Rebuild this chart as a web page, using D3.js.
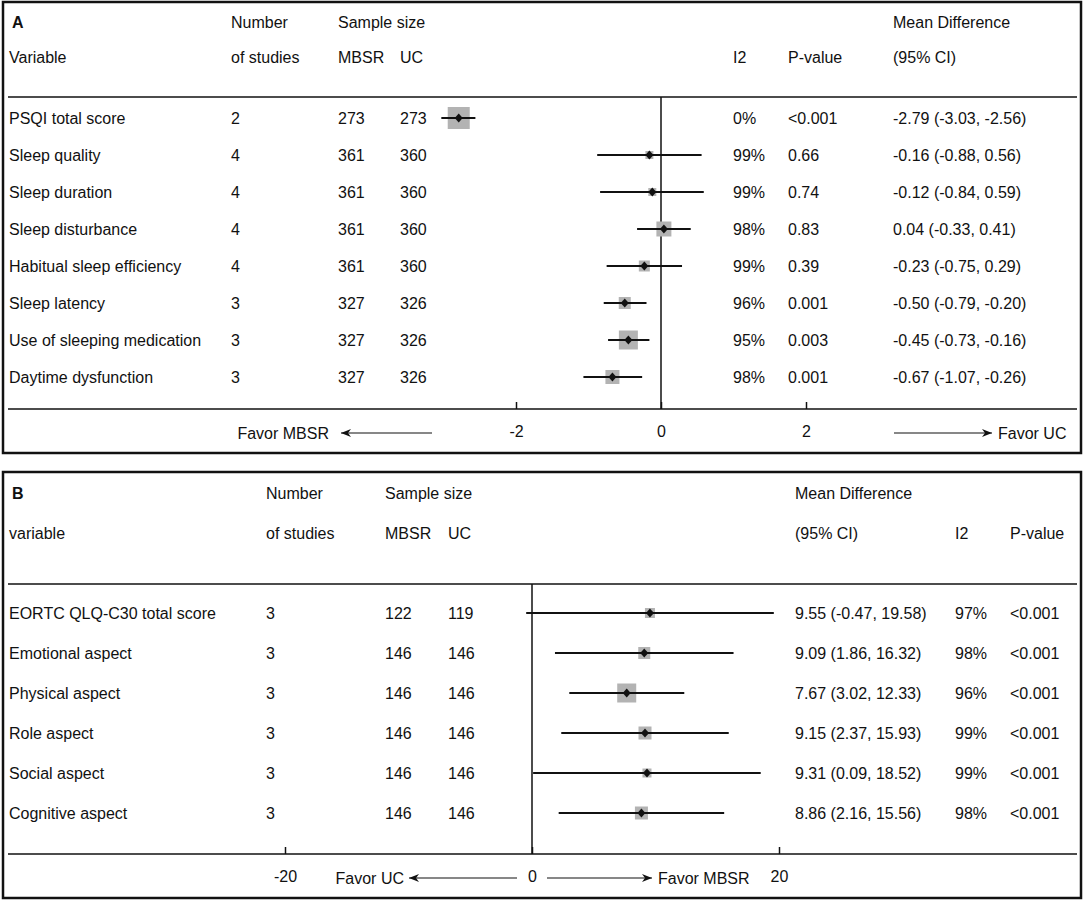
<!DOCTYPE html>
<html>
<head>
<meta charset="utf-8">
<script src="https://cdnjs.cloudflare.com/ajax/libs/d3/7.8.5/d3.min.js"></script>
<style>
  body { margin: 0; background: #fff; }
  svg text { font-family: "Liberation Sans", Arial, sans-serif; font-size: 16px; fill: #111; }
</style>
</head>
<body>
<div id="chart"></div>
<script>
// panel A - sleep outcomes
const sleepVars = ["PSQI total score", "Sleep quality", "Sleep duration", "Sleep disturbance",
  "Habitual sleep efficiency", "Sleep latency", "Use of sleeping medication", "Daytime dysfunction"]
const sleepStudies = [2, 4, 4, 4, 4, 3, 3, 3]
const sleepMBSR = [273, 361, 361, 361, 361, 327, 327, 327]
const sleepUC = [273, 360, 360, 360, 360, 326, 326, 326]
const sleepI2 = ["0%", "99%", "99%", "98%", "99%", "96%", "95%", "98%"]
const sleepP = ["<0.001", "0.66", "0.74", "0.83", "0.39", "0.001", "0.003", "0.001"]
const sleepMD = [-2.79, -0.16, -0.12, 0.04, -0.23, -0.50, -0.45, -0.67]
const sleepLo = [-3.03, -0.88, -0.84, -0.33, -0.75, -0.79, -0.73, -1.07]
const sleepHi = [-2.56, 0.56, 0.59, 0.41, 0.29, -0.20, -0.16, -0.26]
const sleepWeight = [22, 8, 8, 15, 11, 12, 19, 14]
const sleepTicks = [-2, 0, 2]

// panel B - quality of life outcomes
const qolVars = ["EORTC QLQ-C30 total score", "Emotional aspect", "Physical aspect",
  "Role aspect", "Social aspect", "Cognitive aspect"]
const qolStudies = [3, 3, 3, 3, 3, 3]
const qolMBSR = [122, 146, 146, 146, 146, 146]
const qolUC = [119, 146, 146, 146, 146, 146]
const qolI2 = ["97%", "98%", "96%", "99%", "99%", "98%"]
const qolP = ["<0.001", "<0.001", "<0.001", "<0.001", "<0.001", "<0.001"]
const qolMD = [9.55, 9.09, 7.67, 9.15, 9.31, 8.86]
const qolLo = [-0.47, 1.86, 3.02, 2.37, 0.09, 2.16]
const qolHi = [19.58, 16.32, 12.33, 15.93, 18.52, 15.56]
const qolWeight = [10, 12, 19, 13, 9, 13]
const qolTicks = [-20, 0, 20]

const W = 1084, H = 903
const svg = d3.select('#chart').append('svg').attr('width', W).attr('height', H)

const fmt = v => v.toFixed(2)
const sizeScale = d3.scaleLinear().domain([0, 22]).range([0, 22])

const drawPanel = (p) => {
  const g = svg.append('g')
  const rows = p.vars.map((v, i) => ({
    v: v, n: p.studies[i], m: p.mbsr[i], u: p.uc[i], i2: p.i2[i], pv: p.pval[i],
    md: p.md[i], lo: p.lo[i], hi: p.hi[i], w: p.weight[i]
  }))

  // frame
  g.append('rect')
    .attr('x', 3).attr('y', p.top).attr('width', 1078).attr('height', p.bottom - p.top)
    .attr('fill', 'none').attr('stroke', '#111').attr('stroke-width', 2.5)

  // header
  g.append('text').attr('x', 12).attr('y', p.h1).attr('dy', '0.35em')
    .style('font-weight', 'bold').text(p.letter)
  p.headers.forEach(h => {
    g.append('text').attr('x', h[0]).attr('y', h[2] == 1 ? p.h1 : p.h2).attr('dy', '0.35em').text(h[1])
  })

  // separator + axis lines
  g.append('line').attr('x1', 8).attr('x2', 1077).attr('y1', p.sep).attr('y2', p.sep)
    .attr('stroke', '#111').attr('stroke-width', 1.5)
  g.append('line').attr('x1', 8).attr('x2', 1077).attr('y1', p.axisY).attr('y2', p.axisY)
    .attr('stroke', '#111').attr('stroke-width', 1.5)

  const x = d3.scaleLinear().domain(p.domain).range(p.range)
  const y = d3.scalePoint().domain(p.vars).range(p.rowRange)

  // null line
  g.append('line').attr('x1', x(0)).attr('x2', x(0)).attr('y1', p.sep).attr('y2', p.axisY)
    .attr('stroke', '#111').attr('stroke-width', 1.5)

  // axis
  const ax = g.append('g').attr('transform', `translate(0,${p.axisY})`)
    .call(d3.axisBottom(x).tickValues(p.ticks).tickSize(-7).tickPadding(17).tickFormat(d => String(d)))
  ax.select('.domain').remove()
  ax.selectAll('.tick line').attr('stroke', '#111').attr('stroke-width', 1.5)
  ax.selectAll('.tick text').attr('font-size', null).attr('font-family', null).style('fill', '#111')

  // favor arrows
  const ay = p.axisY + 24
  p.favor.forEach(f => {
    g.append('line').attr('x1', f.from).attr('x2', f.to).attr('y1', ay).attr('y2', ay)
      .attr('stroke', '#111').attr('stroke-width', 1.2)
    const dir = f.to < f.from ? -1 : 1
    g.append('path')
      .attr('d', `M${f.to},${ay} L${f.to - dir * 10},${ay - 4} L${f.to - dir * 7},${ay} L${f.to - dir * 10},${ay + 4} Z`)
      .attr('fill', '#111')
    g.append('text').attr('x', f.tx).attr('y', ay).attr('dy', '0.35em')
      .attr('text-anchor', f.anchor).text(f.label)
  })

  // rows text
  const r = g.selectAll('.row').data(rows).join('g').attr('class', 'row')
    .attr('transform', d => `translate(0,${y(d.v)})`)
  p.cols.forEach(c => {
    r.append('text').attr('x', c.x).attr('dy', '0.35em').text(c.f)
  })

  // weight squares, CI lines, diamonds
  r.append('rect')
    .attr('x', d => x(d.md) - sizeScale(d.w) / 2).attr('y', d => -sizeScale(d.w) / 2)
    .attr('width', d => sizeScale(d.w)).attr('height', d => sizeScale(d.w))
    .attr('fill', '#b3b3b3')
  r.append('line').attr('x1', d => x(d.lo)).attr('x2', d => x(d.hi))
    .attr('stroke', '#111').attr('stroke-width', 2.2)
  r.append('path').attr('d', 'M0,-4.5 L4,0 L0,4.5 L-4,0 Z')
    .attr('transform', d => `translate(${x(d.md)},0)`).attr('fill', '#111')
}

const ciText = d => `${fmt(d.md)} (${fmt(d.lo)}, ${fmt(d.hi)})`

drawPanel({
  letter: 'A', top: 2, bottom: 453, h1: 22, h2: 57, sep: 97, axisY: 409,
  vars: sleepVars, studies: sleepStudies, mbsr: sleepMBSR, uc: sleepUC, i2: sleepI2, pval: sleepP,
  md: sleepMD, lo: sleepLo, hi: sleepHi, weight: sleepWeight, ticks: sleepTicks,
  domain: [-2, 2], range: [516, 806], rowRange: [118, 377],
  headers: [[231, 'Number', 1], [338, 'Sample size', 1], [893, 'Mean Difference', 1],
    [9, 'Variable', 2], [231, 'of studies', 2], [338, 'MBSR', 2], [400, 'UC', 2],
    [733, 'I2', 2], [788, 'P-value', 2], [893, '(95% CI)', 2]],
  cols: [{ x: 9, f: d => d.v }, { x: 231, f: d => d.n }, { x: 338, f: d => d.m },
    { x: 400, f: d => d.u }, { x: 733, f: d => d.i2 }, { x: 788, f: d => d.pv },
    { x: 893, f: ciText }],
  favor: [{ label: 'Favor MBSR', from: 432, to: 341, tx: 329, anchor: 'end' },
    { label: 'Favor UC', from: 894, to: 992, tx: 998, anchor: 'start' }]
})

drawPanel({
  letter: 'B', top: 472, bottom: 898, h1: 493, h2: 533, sep: 584, axisY: 854,
  vars: qolVars, studies: qolStudies, mbsr: qolMBSR, uc: qolUC, i2: qolI2, pval: qolP,
  md: qolMD, lo: qolLo, hi: qolHi, weight: qolWeight, ticks: qolTicks,
  domain: [-20, 20], range: [285, 779], rowRange: [613, 813],
  headers: [[266, 'Number', 1], [385, 'Sample size', 1], [795, 'Mean Difference', 1],
    [9, 'variable', 2], [266, 'of studies', 2], [385, 'MBSR', 2], [448, 'UC', 2],
    [795, '(95% CI)', 2], [955, 'I2', 2], [1010, 'P-value', 2]],
  cols: [{ x: 9, f: d => d.v }, { x: 266, f: d => d.n }, { x: 385, f: d => d.m },
    { x: 448, f: d => d.u }, { x: 795, f: ciText }, { x: 955, f: d => d.i2 },
    { x: 1010, f: d => d.pv }],
  favor: [{ label: 'Favor UC', from: 517, to: 409, tx: 404, anchor: 'end' },
    { label: 'Favor MBSR', from: 547, to: 652, tx: 658, anchor: 'start' }]
})
</script>
</body>
</html>
